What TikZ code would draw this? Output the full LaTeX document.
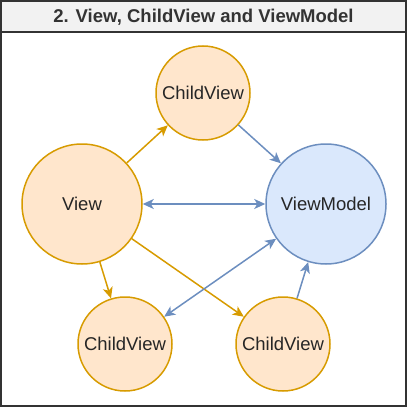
\documentclass[tikz,border=0pt]{standalone}
\usepackage{fontspec}
\setmainfont{Liberation Sans}
\usetikzlibrary{arrows.meta}
\definecolor{viewfill}{HTML}{FFE6CC}
\definecolor{viewline}{HTML}{D79B00}
\definecolor{modelfill}{HTML}{DAE8FC}
\definecolor{modelline}{HTML}{6C8EBF}
\definecolor{titlefill}{HTML}{F2F2F2}
\tikzset{
  viewnode/.style={circle,draw=viewline,fill=viewfill,line width=1.5pt,inner sep=0pt,
    font=\fontsize{18.5}{20}\selectfont,text=black!85},
  modelnode/.style={viewnode,draw=modelline,fill=modelfill},
  viewarrow/.style={draw=viewline,line width=1.5pt,-{Stealth[length=11pt,width=10pt,inset=3pt]}},
  modelarrow/.style={draw=modelline,line width=1.5pt,-{Stealth[length=11pt,width=10pt,inset=3pt]}},
  bothmodelarrow/.style={modelarrow,{Stealth[length=11pt,width=10pt,inset=3pt]}-{Stealth[length=11pt,width=10pt,inset=3pt]}}
}
\begin{document}
\begin{tikzpicture}[x=1pt,y=-1pt]
    \useasboundingbox (0,0) rectangle (408,409);
    % frame and title bar
    \draw[line width=2pt,draw=black!80,fill=titlefill] (1,1) rectangle (406,32);
    \draw[line width=2pt,draw=black!80] (1,32) -- (1,406) -- (406,406) -- (406,32);
    \node[font=\bfseries\fontsize{18.5}{20}\selectfont,text=black!80] (title) at (203.5,17) {2. View, ChildView and ViewModel};
    % circles
    \node[viewnode,minimum size=94pt] (child1) at (203,93) {ChildView};
    \node[viewnode,minimum size=120pt] (view) at (82,204) {View};
    \node[modelnode,minimum size=120pt] (model) at (326,204) {ViewModel};
    \node[viewnode,minimum size=94pt] (child2) at (125,344) {ChildView};
    \node[viewnode,minimum size=94pt] (child3) at (283,344) {ChildView};
    % view to children
    \draw[viewarrow] (view) -- (child1);
    \draw[viewarrow] (view) -- (child2);
    \draw[viewarrow] (view) -- (child3);
    % bindings to the view model
    \draw[modelarrow] (child1) -- (model);
    \draw[bothmodelarrow] (view) -- (model);
    \draw[bothmodelarrow] (child2) -- (model);
    \draw[modelarrow] (child3) -- (model);
  \end{tikzpicture}
\end{document}
